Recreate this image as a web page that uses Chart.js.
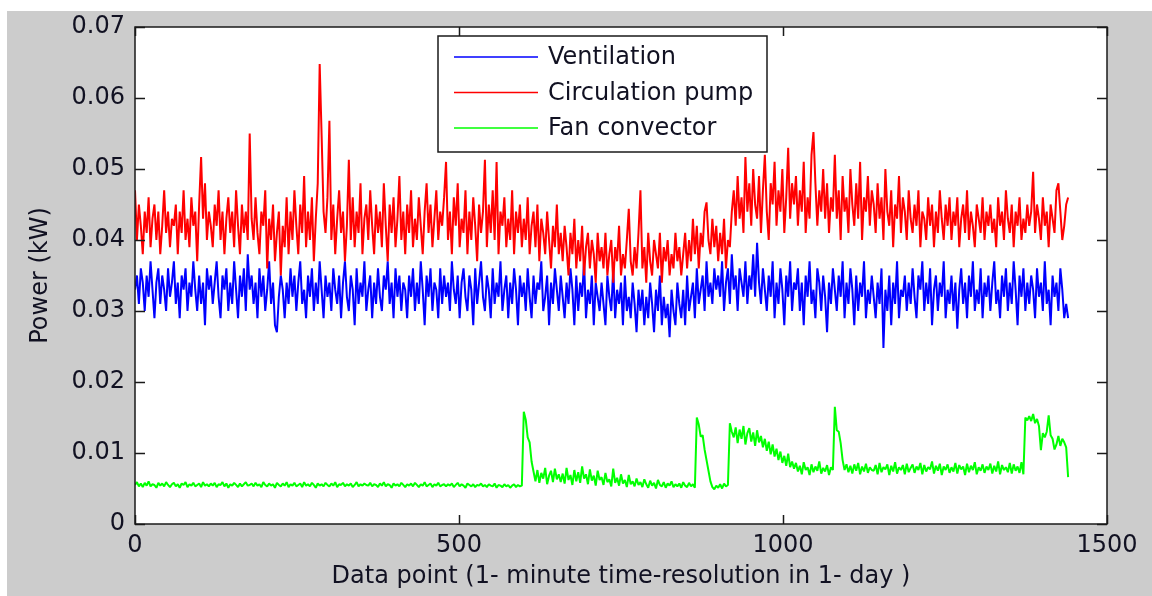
<!DOCTYPE html>
<html>
<head>
<meta charset="utf-8">
<script src="https://cdn.jsdelivr.net/npm/chart.js@4.4.1/dist/chart.umd.min.js"></script>
<style>
  html, body { margin: 0; padding: 0; background: #ffffff; }
  canvas { display: block; }
</style>
</head>
<body>
<canvas id="power-chart" width="1152" height="596"></canvas>
<script>
// (1) Крок вибірки в хвилинах (точки зчитані з графіка через кожні 3 хв)
const STEP = 3;

// (2) Вентиляція, Вт
const ventilationW = [
  33,35,31,36,34,30,35,32,37,33,29,34,36,31,35,33,30,36,32,34,
  37,31,34,29,35,33,36,30,34,32,37,33,30,35,31,34,28,36,33,35,
  31,34,37,32,29,35,33,36,30,34,31,37,33,29,35,32,36,30,38,33,
  35,31,34,29,36,32,35,30,33,37,31,34,28,27,32,35,33,29,34,31,
  36,32,35,30,34,37,31,33,29,35,32,36,30,34,31,37,33,29,35,32,
  34,30,36,33,31,35,29,34,37,32,30,35,33,28,36,31,34,32,37,30,
  33,35,29,34,31,36,32,30,35,33,37,31,34,29,36,32,35,30,34,33,
  29,35,32,36,30,34,31,37,33,28,35,32,36,30,34,33,29,36,31,35,
  32,34,30,37,33,31,35,29,34,36,32,30,35,33,28,36,31,34,37,32,
  30,35,33,29,36,31,34,32,37,30,33,35,29,34,31,36,33,28,35,32,
  34,30,36,32,29,35,31,34,33,37,30,32,35,28,34,31,36,33,30,35,
  32,29,34,31,36,33,28,35,30,34,32,37,29,33,31,35,28,34,32,30,
  34,31,28,35,32,30,36,29,33,31,34,28,35,30,32,29,34,31,27,33,
  30,33,28,32,29,34,31,27,33,30,35,28,32,29,31,26.3,33,30,28,34,
  31,29,33,28,35,30,32,34,29,36,31,33,35,30,37,32,34,31,36,33,
  35,32,37,30,34,36,31,38,33,35,30,36,34,32,37,31,35,33,38,32,
  39.6,34,31,36,33,30,35,32,37,29,34,31,36,33,28,35,32,37,30,34,
  33,36,30,34,28,35,32,37,31,33,29,36,34,30,35,32,27,34,31,36,
  33,30,35,32,37,29,34,31,36,33,28,35,30,34,32,37,29,33,31,35,
  32,29,34,31,36,24.8,33,30,35,28,34,31,37,29,33,32,35,30,34,31,
  36,32,29,35,33,37,30,34,31,36,28,33,35,30,34,32,37,29,33,31,
  35,30,34,27.5,33,36,31,34,29,35,32,37,30,33,31,36,29,34,32,35,
  30,34,37,31,33,29,35,32,36,30,34,31,37,33,28,35,32,36,30,34,
  31,35,33,29,36,32,34,30,37,31,33,28,35,32,34,30,36,33,29,31,
  29
];

// (3) Циркуляційний насос, Вт
const pumpW = [
  47,40,45,42,38,44,41,46,39,43,45,40,44,38,42,47,41,44,39,43,
  42,45,38,44,41,47,40,43,39,46,42,44,37,45,51.7,43,48,40,44,42,
  39,45,42,47,40,44,38,43,46,41,44,39,47,42,38,45,41,44,40,55,
  43,40,46,41,38,44,42,47,36,43,40,45,37,41,44,35,42,39,46,38,
  44,40,47,42,38,45,41,49,39,44,40,46,37,43,48,64.8,54.7,44,41,46,
  56.8,40,45,38,43,47,41,44,37,42,51.3,40,46,39,44,41,48,38,43,45,
  40,47,42,38,45,41,44,39,48,42,37,45,41,46,39,43,49,40,44,38,
  45,41,47,39,43,40,46,42,38,44,48,41,45,39,43,47,40,44,42,46,
  51,40,44,38,46,42,48,39,43,41,47,38,44,40,46,42,37,45,41,44,
  51.3,39,45,41,47,40,51,38,44,42,46,39,43,40,47,38,44,41,45,39,
  43,40,46,38,42,44,39,45,37,43,41,38,44,40,36,42,39,45,38,41,
  37,42,39,35,41,38,43,36,40,37,42,35,39,41,36,40,38,34,41,37,
  39,36,41,35,38,40,34,39,37,42,35,38,36,40,44.4,37,35,39,36,41,
  47,36,39,34,41,37,35,40,38,36,41,34,39,37,40,35,38,36,41,37,
  39,35,38,41,36,40,37,43,38,42,36,41,39,44,45.3,40,38,43,39,42,
  37,41,38,43,36,40,39,44,47,42,49,43,46,41,51.7,44,48,42,50,45,
  43,49,41,47,52,44,40,48,45,51,42,47,44,50,41,46,53,43,48,45,
  49,42,47,44,51,41,46,43,52,55.2,48,42,47,44,50,43,48,41,46,44,
  52,43,47,40,49,44,46,41,50,45,42,48,43,51,40,46,44,49,42,47,
  45,41,48,43,46,40,50,44,42,47,39,45,43,49,41,46,44,40,47,43,
  41,45,42,47,39,44,43,40,46,42,45,39,44,41,47,43,40,45,42,46,
  40,44,42,46,39,43,45,41,47,40,44,42,39,45,43,41,46,40,44,42,
  45,41,43,39,46,42,44,40,47,43,41,45,39,44,42,46,40,43,41,45,
  42,44,49.6,41,45,43,40,46,42,44,39,45,43,41,47,48,44,40,42,45,
  46
];

// (4) Фанкойл, Вт
const fanW = [
  5.5,5.9,5.3,5.7,5.2,5.8,5.4,6.0,5.3,5.6,5.5,5.1,5.8,5.4,5.7,5.3,5.9,5.5,5.2,5.6,
  5.8,5.3,5.6,5.1,5.7,5.5,5.9,5.2,5.6,5.4,5.8,5.3,5.5,5.7,5.2,5.9,5.4,5.6,5.3,5.7,
  5.4,5.8,5.2,5.6,5.5,5.9,5.3,5.7,5.1,5.6,5.4,5.8,5.5,5.2,5.7,5.3,5.6,5.9,5.4,5.5,
  5.7,5.3,5.8,5.4,5.6,5.2,5.9,5.5,5.3,5.7,5.4,5.6,5.1,5.8,5.5,5.3,5.7,5.4,5.9,5.2,
  5.6,5.4,5.8,5.3,5.5,5.7,5.2,5.9,5.4,5.6,5.3,5.8,5.5,5.1,5.7,5.4,5.6,5.3,5.8,5.5,
  5.3,5.7,5.4,5.9,5.2,5.6,5.5,5.8,5.3,5.6,5.4,5.7,5.2,5.5,5.9,5.3,5.6,5.4,5.7,5.5,
  5.4,5.8,5.3,5.6,5.5,5.2,5.7,5.4,5.9,5.3,5.6,5.5,5.1,5.7,5.4,5.6,5.3,5.8,5.5,5.2,
  5.6,5.4,5.7,5.3,5.8,5.5,5.2,5.6,5.4,5.9,5.3,5.5,5.7,5.2,5.6,5.4,5.8,5.3,5.5,5.6,
  5.3,5.6,5.4,5.7,5.2,5.5,5.8,5.3,5.6,5.4,5.1,5.7,5.5,5.3,5.6,5.2,5.5,5.4,5.7,5.3,
  5.5,5.2,5.6,5.4,5.3,5.7,5.1,5.5,5.4,5.2,5.6,5.3,5.5,5.1,5.4,5.6,5.2,5.5,5.3,5.4,
  15.8,14.7,12.2,11.5,8.8,7.4,6.0,7.6,5.8,7.2,6.4,7.9,5.6,6.8,7.5,5.9,7.8,6.3,7.0,5.9,
  7.1,5.7,7.9,6.2,6.9,5.5,7.6,6.0,7.3,5.8,8.1,6.4,7.0,5.6,7.7,6.1,6.8,5.4,7.5,6.2,
  6.6,5.5,7.2,5.9,6.3,5.3,7.8,5.8,6.5,5.4,7.0,5.7,6.2,5.2,6.9,5.6,6.0,5.3,6.4,5.5,
  5.9,5.2,6.3,5.6,5.1,6.1,5.4,5.8,5.0,6.2,5.5,5.3,5.9,5.1,5.7,5.4,6.0,5.2,5.6,5.3,
  5.7,5.1,5.9,5.4,5.2,5.8,5.3,5.6,5.1,15.0,14.0,12.3,12.5,10.5,9.0,7.5,6.0,5.2,4.9,5.4,
  5.1,5.6,5.0,5.7,5.3,5.5,14.2,13.0,12.2,13.6,11.4,13.3,12.0,13.8,11.2,12.8,13.5,11.6,12.9,11.0,
  13.2,11.5,12.4,10.8,12.0,10.3,11.6,9.8,11.2,9.5,10.6,9.0,10.2,8.6,9.6,8.2,9.9,8.0,8.8,7.8,
  8.6,7.4,8.2,7.0,8.7,7.6,8.0,6.9,8.4,7.3,8.1,7.5,8.8,7.1,7.9,7.4,8.3,6.9,8.0,7.6,
  16.5,13.2,13.0,11.4,9.0,7.6,8.4,7.3,8.2,7.1,8.4,7.5,8.6,7.0,8.1,7.4,8.5,7.2,8.0,7.6,
  7.5,8.3,7.0,8.6,7.3,8.0,7.7,8.4,6.9,8.2,7.4,8.7,7.1,8.0,7.6,8.3,7.0,8.5,7.3,7.9,
  8.4,7.2,8.1,7.6,8.6,7.0,8.3,7.4,8.0,7.7,8.8,7.1,8.2,7.5,8.5,6.9,8.1,7.6,8.4,7.2,
  8.0,7.4,8.6,7.1,8.3,7.7,8.1,6.9,8.5,7.3,8.2,7.6,8.7,7.0,8.0,7.5,8.4,7.2,8.1,7.6,
  8.5,7.1,8.2,7.4,8.8,7.0,8.3,7.6,8.0,7.3,8.6,7.1,8.4,7.5,8.1,7.2,8.7,7.0,15.0,14.6,
  15.2,14.5,15.5,14.2,14.8,13.8,10.4,12.8,12.2,13.0,15.3,12.5,12.0,10.5,11.2,12.4,11.0,12.0,11.5,10.8,
  6.6
];

// (5) Назви серій, кольори та поділки осей
const seriesNames = ['Ventilation', 'Circulation pump', 'Fan convector'];
const seriesColors = ['#0000ff', '#ff0000', '#00ff00'];
const xTicks = [0, 500, 1000, 1500];
const yTicks = [0, 0.01, 0.02, 0.03, 0.04, 0.05, 0.06, 0.07];
const xTitle = 'Data point (1- minute time-resolution in 1- day )';
const yTitle = 'Power (kW)';

const FONT = { family: 'DejaVu Sans', size: 24 };
const TEXT = '#111122';

// (6) Сірий фон, рамка з внутрішніми рисками і легенда як у MATLAB
const matlabFrame = {
  id: 'matlabFrame',
  beforeDraw(chart) {
    const { ctx, chartArea: a } = chart;
    ctx.save();
    ctx.fillStyle = '#ffffff';
    ctx.fillRect(0, 0, chart.width, chart.height);
    ctx.fillStyle = '#cccccc';
    ctx.fillRect(7, 11, chart.width - 7, chart.height - 11);
    ctx.fillStyle = '#ffffff';
    ctx.fillRect(a.left, a.top, a.right - a.left, a.bottom - a.top);
    ctx.restore();
  },
  afterDraw(chart) {
    const { ctx, chartArea: a, scales } = chart;
    ctx.save();
    ctx.strokeStyle = '#1a1a1a';
    ctx.lineWidth = 1.5;
    ctx.beginPath();
    scales.x.ticks.forEach(t => {
      const px = Math.round(scales.x.getPixelForValue(t.value)) + 0.5;
      ctx.moveTo(px, a.bottom); ctx.lineTo(px, a.bottom - 9);
      ctx.moveTo(px, a.top); ctx.lineTo(px, a.top + 9);
    });
    scales.y.ticks.forEach(t => {
      const py = Math.round(scales.y.getPixelForValue(t.value)) + 0.5;
      ctx.moveTo(a.left, py); ctx.lineTo(a.left + 10, py);
      ctx.moveTo(a.right, py); ctx.lineTo(a.right - 10, py);
    });
    ctx.stroke();
    ctx.strokeRect(a.left, a.top, a.right - a.left, a.bottom - a.top);

    // (7) Легенда
    const box = { x: 438, y: 36, w: 329, h: 116 };
    ctx.fillStyle = '#ffffff';
    ctx.fillRect(box.x, box.y, box.w, box.h);
    ctx.strokeRect(box.x, box.y, box.w, box.h);
    ctx.font = FONT.size + 'px "' + FONT.family + '"';
    ctx.textBaseline = 'middle';
    ctx.textAlign = 'left';
    chart.data.datasets.forEach((ds, i) => {
      const y = 57 + i * 35.5;
      ctx.strokeStyle = ds.borderColor;
      ctx.lineWidth = 1.5;
      ctx.beginPath();
      ctx.moveTo(454, y); ctx.lineTo(538, y);
      ctx.stroke();
      ctx.fillStyle = TEXT;
      ctx.fillText(ds.label, 548, y + 1);
    });
    ctx.restore();
  }
};

// (8) Будуємо графік
const minutes = ventilationW.map((_, i) => i * STEP);
const toKW = arr => arr.map(w => w / 1000);
const seriesW = [ventilationW, pumpW, fanW];

const chart = new Chart(document.getElementById('power-chart').getContext('2d'), {
  type: 'line',
  data: {
    labels: minutes,
    datasets: seriesW.map((arr, i) => ({
      label: seriesNames[i],
      data: toKW(arr),
      borderColor: seriesColors[i],
      borderWidth: 2,
      borderJoinStyle: 'bevel',
      pointRadius: 0,
      tension: 0,
      fill: false,
      order: 2 - i
    }))
  },
  options: {
    responsive: false,
    animation: false,
    devicePixelRatio: 1,
    layout: { padding: { top: 27, right: 45, left: 0, bottom: 0 } },
    plugins: { legend: { display: false }, tooltip: { enabled: false } },
    scales: {
      x: {
        type: 'linear',
        min: 0,
        max: 1500,
        afterBuildTicks: s => { s.ticks = xTicks.map(v => ({ value: v })); },
        afterFit: s => { s.height = 72; },
        grid: { display: false, drawTicks: false },
        border: { display: false },
        ticks: { font: FONT, color: TEXT, padding: 7, maxRotation: 0, callback: v => String(v) },
        title: { display: true, text: xTitle, font: FONT, color: TEXT, padding: { top: 0, bottom: 5 } }
      },
      y: {
        min: 0,
        max: 0.07,
        afterBuildTicks: s => { s.ticks = yTicks.map(v => ({ value: v })); },
        afterFit: s => { s.width = 135; },
        grid: { display: false, drawTicks: false },
        border: { display: false },
        ticks: {
          font: FONT,
          color: TEXT,
          padding: 10,
          callback: v => (v === 0 ? '0' : v.toFixed(2))
        },
        title: { display: true, text: yTitle, font: FONT, color: TEXT, padding: { top: 26, bottom: 0 } }
      }
    }
  },
  plugins: [matlabFrame]
});
</script>
</body>
</html>
